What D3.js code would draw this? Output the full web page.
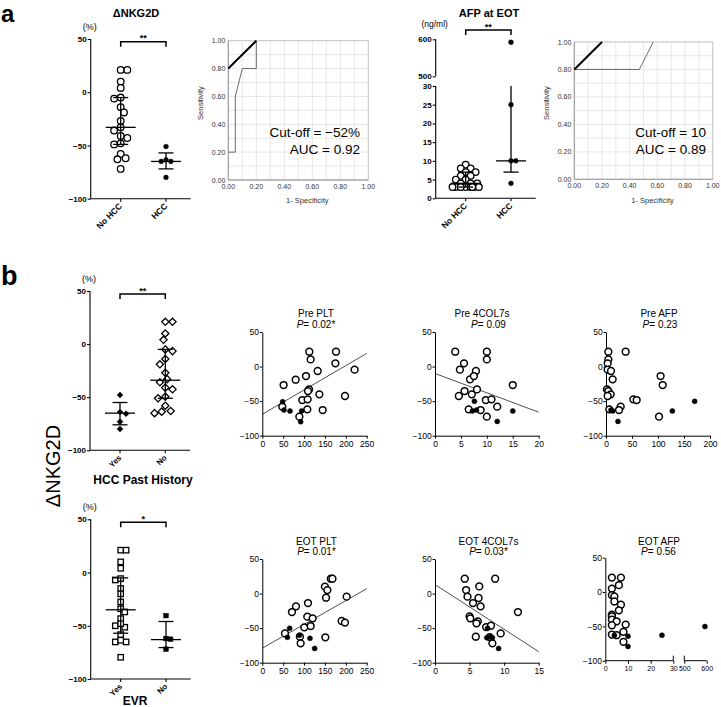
<!DOCTYPE html>
<html><head><meta charset="utf-8">
<script src="https://cdn.jsdelivr.net/npm/d3@7"></script>
<style>body{margin:0;background:#fff} svg{display:block}</style>
</head><body>
<svg id="c" width="721" height="707"></svg>
<script>
// ---------------- DATA ----------------
// Panel a: ΔNKG2D by HCC
const aCats = ["No HCC", "HCC"];
const dNKG2D_noHCC = [21,21,10,4,-5,-6,-14,-19,-27,-33,-36,-41,-43,-48,-49,-58,-62,-63,-72];
const dNKG2D_HCC = [-51,-63.5,-65,-65,-80];
const dNKG2D_noHCC_stats = [-33,-5,-49];   // median, upper, lower
const dNKG2D_HCC_stats = [-65,-57,-72];
const dNKG2D_ticks = [50,0,-50,-100];
// Panel a: AFP at EOT
const afp_noHCC = [9,8,8,7,7,6,6,5,5,4,4,4,3,3,3,3,3,3,3,3];
const afp_HCC = [592,25,10,10,4];
const afp_noHCC_stats = [4,7,3];
const afp_HCC_stats = [10,30,7];
const afp_ticksLow = [0,5,10,15,20,25,30];
const afp_ticksHigh = [500,600];
// ROC curves
const roc1Curve = [[0,0.2],[0.05,0.2],[0.05,0.6],[0.1,0.8],[0.2,0.8],[0.2,1.0]];
const roc1Ref = [[0,0.8],[0.2,1.0]];
const roc2Curve = [[0,0.8],[0.47,0.8],[0.57,1.0]];
const roc2Ref = [[0,0.8],[0.2,1.0]];
const rocTicks = [0,0.2,0.4,0.6,0.8,1.0];
const roc1Text = ["Cut-off = \u221252%", "AUC = 0.92"];
const roc2Text = ["Cut-off = 10", "AUC = 0.89"];
// Panel b: HCC past history
const ynCats = ["Yes", "No"];
const hcc_yes = [-48,-64,-65.5,-73,-80];
const hcc_no = [21,21,10,4,-5,-6.6,-14,-19,-27,-33,-36,-41,-42.6,-49.5,-51,-58,-63,-65,-63.6];
const hcc_yes_stats = [-65,-55,-76];
const hcc_no_stats = [-34,-5,-51];
// Panel b: EVR
const evr_yes = [21,21,10,4,-7,-5.7,-15,-20,-27.6,-34,-37,-43.3,-50,-51.4,-48,-58.3,-65.2,-65.2,-63.6,-79.6];
const evr_no = [-40.5,-62,-62.6,-72];
const evr_yes_stats = [-35,-5,-57];
const evr_no_stats = [-63,-46,-70.5];
// Scatter plots: [x, ΔNKG2D]
const prePLT_open = [[112.6,21.5],[176.5,21.5],[115.8,10.4],[175,4.7],[221,-4.5],[132.6,-6.4],[79.9,-19],[104.6,-13.7],[51,-26.7],[112,-33],[109.4,-35.4],[136.6,-40.2],[198,-42.6],[95.8,-48.4],[108.6,-47.4],[47.9,-58],[107.8,-61.9],[144.6,-62.9],[88.7,-72.5]];
const prePLT_filled = [[48.7,-50.8],[51.9,-62.9],[66.3,-64.3],[94.2,-64.3],[91.9,-79.7]];
const prePLT_fit = [[0,-69],[250,19]];
const pre4COL_open = [[3.9,21.5],[10,21.5],[10,10.4],[5.6,4.7],[4.8,-4.5],[7.9,-6.4],[6.75,-18.5],[7.5,-13.7],[15,-26.7],[8.1,-33],[5.7,-35.4],[7.1,-40.2],[4.6,-42.6],[9.8,-48.4],[10.9,-47.4],[12,-58],[6.5,-61.9],[8.8,-62.9],[10,-72.5]];
const pre4COL_filled = [[7.6,-50.3],[7.2,-64.3],[8,-62.9],[12,-79.3],[15,-64.3]];
const pre4COL_fit = [[0,-10],[20,-66]];
const preAFP_open = [[4.5,21.5],[37.8,21.5],[4.5,10.4],[3.2,4.7],[3.2,-4.5],[9.6,-6.4],[12.8,-18.5],[105,-13.7],[109,-26.7],[1.9,-33],[4.5,-35.4],[9,-40.2],[3.2,-42.6],[52.6,-47.4],[59,-48.4],[28.2,-58],[25,-62.9],[6.4,-61.9],[102,-72.5]];
const preAFP_filled = [[170.5,-50.3],[9.6,-62.9],[12.8,-64.3],[127.6,-64.3],[23,-79.3]];
const eotPLT_open = [[164,21.5],[168,21.5],[150,10],[155.8,5],[152.6,-6],[202,-4.5],[80.7,-18.5],[109.4,-13.7],[71,-26.7],[107.8,-33.4],[120.6,-35.8],[100.6,-48.9],[115.8,-47],[54.3,-57.6],[90,-62.4],[151,-63.3],[91.9,-72],[190,-39.7],[198,-42]];
const eotPLT_filled = [[65.5,-50.3],[60,-63.3],[88.7,-60.4],[114.2,-64.8],[125.4,-79.3]];
const eotPLT_fit = [[0,-79],[250,7]];
const eot4COL_open = [[4.3,21.5],[8.7,21.5],[6.4,10.4],[4.5,5.1],[4.7,-4.5],[6.3,-6.4],[6.6,-18.5],[5.5,-13.7],[12,-26.7],[5.0,-33],[5.1,-35.8],[6.2,-40.2],[6.0,-43],[7.4,-48.4],[8.1,-46.5],[9.5,-57.6],[5.9,-62.4],[8.3,-72],[7.9,-63]];
const eot4COL_filled = [[7.6,-50.3],[7.5,-64],[8.0,-62.4],[8.3,-64],[9.2,-79.3]];
const eot4COL_fit = [[0,13],[15,-84]];
const eotAFP_open = [[2.9,21],[6.9,21],[6,10],[2.9,5],[2.9,-4.5],[4,-6.4],[6.9,-18.5],[4,-13.7],[6,-26.7],[2.9,-33],[2.9,-35.4],[2.9,-40.2],[5,-42.6],[9,-47.4],[2.9,-48.4],[8,-58],[2.9,-61.9],[5,-62.9],[8,-72.5]];
const eotAFP_filled = [[592,-50.3],[4,-62.9],[10,-64.3],[25,-62.9],[10,-79.3]];
const scatterYTicks = [50,0,-50,-100];

// ---------------- DRAWING ----------------
const FONT = '"Liberation Sans", Arial, Helvetica, sans-serif';
const svg = d3.select('#c').attr('font-family', FONT);

function txt(g, x, y, s, size, opts = {}) {
  const t = g.append('text').attr('x', x).attr('y', y).attr('font-size', size)
    .attr('text-anchor', opts.anchor || 'middle').attr('fill', opts.fill || '#000')
    .attr('font-weight', opts.bold ? 'bold' : 'normal');
  if (opts.transform) t.attr('transform', opts.transform);
  if (opts.italic) t.attr('font-style', 'italic');
  t.text(s);
  return t;
}

function swarm(pys, r, maxOff) {
  const idx = pys.map((p, i) => i).sort((a, b) => pys[a] - pys[b]);
  const off = new Array(pys.length).fill(0);
  const placed = [];
  const md = 2 * r * 0.9, st = r * 0.5;
  let flip = 1;
  idx.forEach(i => {
    const py = pys[i];
    let best = 0, bestD = -1, found = false;
    for (let k = 0; k * st <= maxOff; k++) {
      const cs = k === 0 ? [0] : [flip * k * st, -flip * k * st];
      for (const c of cs) {
        let dmin = Infinity;
        placed.forEach(p => { const d = Math.hypot(p[0] - c, p[1] - py); if (d < dmin) dmin = d; });
        if (dmin >= md) { best = c; found = true; break; }
        if (dmin > bestD) { bestD = dmin; best = c; }
      }
      if (found) break;
    }
    if (best !== 0) flip = best > 0 ? -1 : 1;
    off[i] = best; placed.push([best, py]);
  });
  return off;
}

function marker(g, type, cx, cy, s, filled, sw) {
  let m;
  if (type === 'circle') m = g.append('circle').attr('cx', cx).attr('cy', cy).attr('r', s);
  else if (type === 'square') m = g.append('rect').attr('x', cx - s).attr('y', cy - s).attr('width', 2 * s).attr('height', 2 * s);
  else m = g.append('path').attr('d', `M${cx},${cy - s}L${cx + s},${cy}L${cx},${cy + s}L${cx - s},${cy}Z`);
  m.attr('fill', filled ? '#000' : '#fff').attr('stroke', '#000').attr('stroke-width', filled ? 0.5 : sw);
}

function dotPanel(o) {
  const g = svg.append('g');
  const y = o.y;
  const catPx = [o.ax + 30, o.ax + 75.3];
  const x = d3.scaleOrdinal().domain(o.cats).range(catPx);
  const yBase = y(o.base);
  o.segments.forEach(seg => {
    g.append('line').attr('x1', o.ax).attr('x2', o.ax).attr('y1', y(seg[0])).attr('y2', y(seg[1]))
      .attr('stroke', '#000').attr('stroke-width', 1.1);
  });
  const ax = g.append('g').attr('transform', `translate(${o.ax},0)`)
    .call(d3.axisLeft(y).tickValues(o.ticks).tickSize(3).tickSizeOuter(0).tickPadding(1));
  ax.select('.domain').remove();
  ax.selectAll('line').attr('stroke', '#000').attr('stroke-width', 1.1);
  ax.selectAll('text').attr('font-size', 8).attr('font-weight', 'bold').attr('font-family', FONT).attr('fill', '#000');
  g.append('line').attr('x1', o.ax).attr('x2', o.ax + 100).attr('y1', yBase).attr('y2', yBase).attr('stroke', '#000').attr('stroke-width', 1.1);
  o.cats.forEach(c => {
    g.append('line').attr('x1', x(c)).attr('x2', x(c)).attr('y1', yBase).attr('y2', yBase + 3).attr('stroke', '#000').attr('stroke-width', 1.1);
    txt(g, x(c) + 2, yBase + 8, c, o.catFont || 8.5, { anchor: 'end', bold: true, transform: `rotate(-45,${x(c) + 2},${yBase + 8})` });
  });
  o.groups.forEach((gr, gi) => {
    const cx = x(o.cats[gi]);
    const pys = gr.values.map(v => y(v));
    const offs = swarm(pys, gr.size, gr.maxOff || 16);
    gr.values.forEach((v, i) => marker(g, gr.type, cx + offs[i], pys[i], gr.size, gr.filled, 1.3));
  });
  o.groups.forEach((gr, gi) => {
    const cx = x(o.cats[gi]);
    const [med, up, lo] = gr.stats;
    const L = (x1, y1, x2, y2) => g.append('line').attr('x1', x1).attr('y1', y1).attr('x2', x2).attr('y2', y2).attr('stroke', '#000').attr('stroke-width', 1.3);
    L(cx, y(up), cx, y(lo));
    L(cx - 15, y(med), cx + 15, y(med));
    if (!gr.noTopCap) L(cx - 7.5, y(up), cx + 7.5, y(up));
    L(cx - 7.5, y(lo), cx + 7.5, y(lo));
  });
  const by = o.bracketY;
  g.append('path').attr('d', `M${catPx[0]},${by + 5}V${by}H${catPx[1]}V${by + 5}`).attr('fill', 'none').attr('stroke', '#000').attr('stroke-width', 1.5);
  txt(g, (catPx[0] + catPx[1]) / 2, by - 0.5, o.sig, 9, { bold: true });
  txt(g, o.ax - 1, o.unitY, o.unit, o.unitFont || 9);
  return g;
}

function roc(o) {
  const g = svg.append('g');
  const x = d3.scaleLinear().domain([0, 1]).range([o.x0, o.x1]);
  const y = d3.scaleLinear().domain([0, 1]).range([o.yb, o.yt]);
  const grid = d3.range(0, 11).map(i => i / 10);
  g.selectAll(null).data(grid).join('line').attr('x1', d => x(d)).attr('x2', d => x(d)).attr('y1', o.yt).attr('y2', o.yb).attr('stroke', '#e1e1e1').attr('stroke-width', 0.8);
  g.selectAll(null).data(grid).join('line').attr('y1', d => y(d)).attr('y2', d => y(d)).attr('x1', o.x0).attr('x2', o.x1).attr('stroke', '#e1e1e1').attr('stroke-width', 0.8);
  g.append('rect').attr('x', o.x0).attr('y', o.yt).attr('width', o.x1 - o.x0).attr('height', o.yb - o.yt).attr('fill', 'none').attr('stroke', '#c4c4c4').attr('stroke-width', 0.9);
  g.append('path').attr('d', `M${o.x0},${o.yt}V${o.yb}H${o.x1}`).attr('fill', 'none').attr('stroke', '#9a9a9a').attr('stroke-width', 1);
  rocTicks.forEach(t => {
    txt(g, o.x0 - 3, y(t) + 2.5, d3.format('.2f')(t), 7, { anchor: 'end', fill: '#333' });
    txt(g, x(t), o.yb + 8.5, d3.format('.2f')(t), 7, { fill: '#333' });
  });
  const line = d3.line().x(d => x(d[0])).y(d => y(d[1]));
  g.append('path').attr('d', line(o.curve)).attr('fill', 'none').attr('stroke', '#5a5a5a').attr('stroke-width', 0.9);
  g.append('path').attr('d', line(o.ref)).attr('fill', 'none').attr('stroke', '#000').attr('stroke-width', 2);
  txt(g, o.x0 - 25, 103, 'Sensitivity', 7.5, { fill: '#333', transform: `rotate(-90,${o.x0 - 25},103)` });
  txt(g, (o.x0 + o.x1) / 2 + 9, 202.5, '1- Specificity', 7.5, { fill: '#333' });
  txt(g, o.tx, 137, o.text[0], 13.5, { anchor: 'end' });
  txt(g, o.tx, 154, o.text[1], 13.5, { anchor: 'end' });
}

function scatter(o) {
  const g = svg.append('g');
  const x = o.x;
  const y = d3.scaleLinear().domain([-100, 50]).range([o.yb, o.yt]);
  const x0 = x.range()[0];
  const ya = g.append('g').attr('transform', `translate(${x0},0)`)
    .call(d3.axisLeft(y).tickValues(scatterYTicks).tickSize(2.5).tickSizeOuter(0).tickPadding(0.8));
  ya.selectAll('path,line').attr('stroke', '#000').attr('stroke-width', 1);
  ya.selectAll('text').attr('font-size', 8.5).attr('font-family', FONT).attr('fill', '#000');
  const xa = g.append('g').attr('transform', `translate(0,${o.yb})`)
    .call(d3.axisBottom(x).tickValues(o.xticks).tickSize(3).tickSizeOuter(0).tickPadding(2.5));
  xa.selectAll('path,line').attr('stroke', '#000').attr('stroke-width', 1);
  xa.selectAll('text').attr('font-size', o.xfont || 8.5).attr('font-family', FONT).attr('fill', '#000');
  if (o.breakAxis) {
    xa.select('.domain').remove();
    o.breakAxis.forEach(seg => {
      g.append('line').attr('x1', x(seg[0])).attr('x2', x(seg[1])).attr('y1', o.yb).attr('y2', o.yb).attr('stroke', '#000');
    });
    [30, 500].forEach(v => g.append('line').attr('x1', x(v)).attr('x2', x(v)).attr('y1', o.yb - 5).attr('y2', o.yb).attr('stroke', '#000'));
  }
  if (o.fit) {
    g.append('line').attr('x1', x(o.fit[0][0])).attr('y1', y(o.fit[0][1])).attr('x2', x(o.fit[1][0])).attr('y2', y(o.fit[1][1]))
      .attr('stroke', '#222').attr('stroke-width', 0.8);
  }
  o.open.forEach(d => marker(g, 'circle', x(d[0]), y(d[1]), 3.4, false, 1.5));
  o.filled.forEach(d => marker(g, 'circle', x(d[0]), y(d[1]), 2.5, true));
  txt(g, o.tx, o.ty, o.title, 10);
  const p = g.append('text').attr('x', o.px).attr('y', o.ty + 10.5).attr('font-size', 10).attr('text-anchor', 'middle');
  p.append('tspan').attr('font-style', 'italic').text('P');
  p.append('tspan').text('= ' + o.p);
}

// Panel labels
txt(svg, 1, 21.8, 'a', 24, { anchor: 'start', bold: true });
txt(svg, 1, 285, 'b', 27, { anchor: 'start', bold: true });

// Panel a titles
txt(svg, 136, 16.5, '\u0394NKG2D', 11, { bold: true });
txt(svg, 489, 16.5, 'AFP at EOT', 11, { bold: true });

dotPanel({
  ax: 90.7, y: d3.scaleLinear().domain([-100, 50]).range([198.7, 39]), base: -100,
  segments: [[-100, 50]], ticks: dNKG2D_ticks, cats: aCats,
  groups: [
    { values: dNKG2D_noHCC, type: 'circle', size: 3.3, filled: false, stats: dNKG2D_noHCC_stats },
    { values: dNKG2D_HCC, type: 'circle', size: 2.4, filled: true, stats: dNKG2D_HCC_stats }
  ],
  bracketY: 41.7, sig: '**', unit: '(%)', unitY: 30
});

dotPanel({
  ax: 435.7, y: d3.scaleLinear().domain([0, 30, 500, 600]).range([198.3, 86, 76.3, 39.3]), base: 0,
  segments: [[0, 30], [500, 600]], ticks: afp_ticksLow.concat(afp_ticksHigh), cats: aCats,
  groups: [
    { values: afp_noHCC, type: 'circle', size: 3.3, filled: false, stats: afp_noHCC_stats, maxOff: 14 },
    { values: afp_HCC, type: 'circle', size: 2.4, filled: true, stats: afp_HCC_stats, noTopCap: true }
  ],
  bracketY: 30, sig: '**', unit: '(ng/ml)', unitY: 27, unitFont: 8.5
});

roc({ x0: 228.3, x1: 368.3, yt: 40.7, yb: 180, curve: roc1Curve, ref: roc1Ref, text: roc1Text, tx: 360 });
roc({ x0: 574.3, x1: 712.7, yt: 42, yb: 179.3, curve: roc2Curve, ref: roc2Ref, text: roc2Text, tx: 706 });

txt(svg, 60, 466, '\u0394NKG2D', 20, { transform: 'rotate(-90,60,466)' });

dotPanel({
  ax: 90, y: d3.scaleLinear().domain([-100, 50]).range([450.3, 291]), base: -100,
  segments: [[-100, 50]], ticks: dNKG2D_ticks, cats: ynCats, catFont: 8,
  groups: [
    { values: hcc_yes, type: 'diamond', size: 3, filled: true, stats: hcc_yes_stats },
    { values: hcc_no, type: 'diamond', size: 3.6, filled: false, stats: hcc_no_stats }
  ],
  bracketY: 294, sig: '**', unit: '(%)', unitY: 281.5
});
txt(svg, 143, 484, 'HCC Past History', 12, { bold: true });

dotPanel({
  ax: 90.7, y: d3.scaleLinear().domain([-100, 50]).range([679, 519.3]), base: -100,
  segments: [[-100, 50]], ticks: dNKG2D_ticks, cats: ynCats, catFont: 8,
  groups: [
    { values: evr_yes, type: 'square', size: 2.7, filled: false, stats: evr_yes_stats },
    { values: evr_no, type: 'square', size: 2.3, filled: true, stats: evr_no_stats }
  ],
  bracketY: 522.3, sig: '*', unit: '(%)', unitY: 510
});
txt(svg, 135, 705, 'EVR', 12, { bold: true });

scatter({ x: d3.scaleLinear().domain([0, 250]).range([262.3, 366.7]), xticks: [0,50,100,150,200,250], yt: 332, yb: 435.7,
  open: prePLT_open, filled: prePLT_filled, fit: prePLT_fit, title: 'Pre PLT', p: '0.02*', tx: 316, px: 316, ty: 317 });
scatter({ x: d3.scaleLinear().domain([0, 20]).range([435, 538.7]), xticks: [0,5,10,15,20], yt: 332, yb: 435.7,
  open: pre4COL_open, filled: pre4COL_filled, fit: pre4COL_fit, title: 'Pre 4COL7s', p: '0.09', tx: 482, px: 488.5, ty: 317 });
scatter({ x: d3.scaleLinear().domain([0, 200]).range([606, 710]), xticks: [0,50,100,150,200], yt: 332, yb: 435.7,
  open: preAFP_open, filled: preAFP_filled, title: 'Pre AFP', p: '0.23', tx: 659, px: 660, ty: 317 });
scatter({ x: d3.scaleLinear().domain([0, 250]).range([262.3, 366.7]), xticks: [0,50,100,150,200,250], yt: 559, yb: 662.7,
  open: eotPLT_open, filled: eotPLT_filled, fit: eotPLT_fit, title: 'EOT PLT', p: '0.01*', tx: 316.5, px: 316.5, ty: 544.5 });
scatter({ x: d3.scaleLinear().domain([0, 15]).range([435, 538.7]), xticks: [0,5,10,15], yt: 559, yb: 662.7,
  open: eot4COL_open, filled: eot4COL_filled, fit: eot4COL_fit, title: 'EOT 4COL7s', p: '0.03*', tx: 488.5, px: 488.5, ty: 544.5 });
scatter({ x: d3.scaleLinear().domain([0, 30, 500, 600]).range([605.3, 673.3, 684.3, 706.7]), xticks: [0,10,20,30,500,600], xfont: 7,
  breakAxis: [[0, 30], [500, 600]], yt: 557.7, yb: 660.7,
  open: eotAFP_open, filled: eotAFP_filled, title: 'EOT AFP', p: '0.56', tx: 659, px: 658.5, ty: 544.5 });
</script>
</body></html>
